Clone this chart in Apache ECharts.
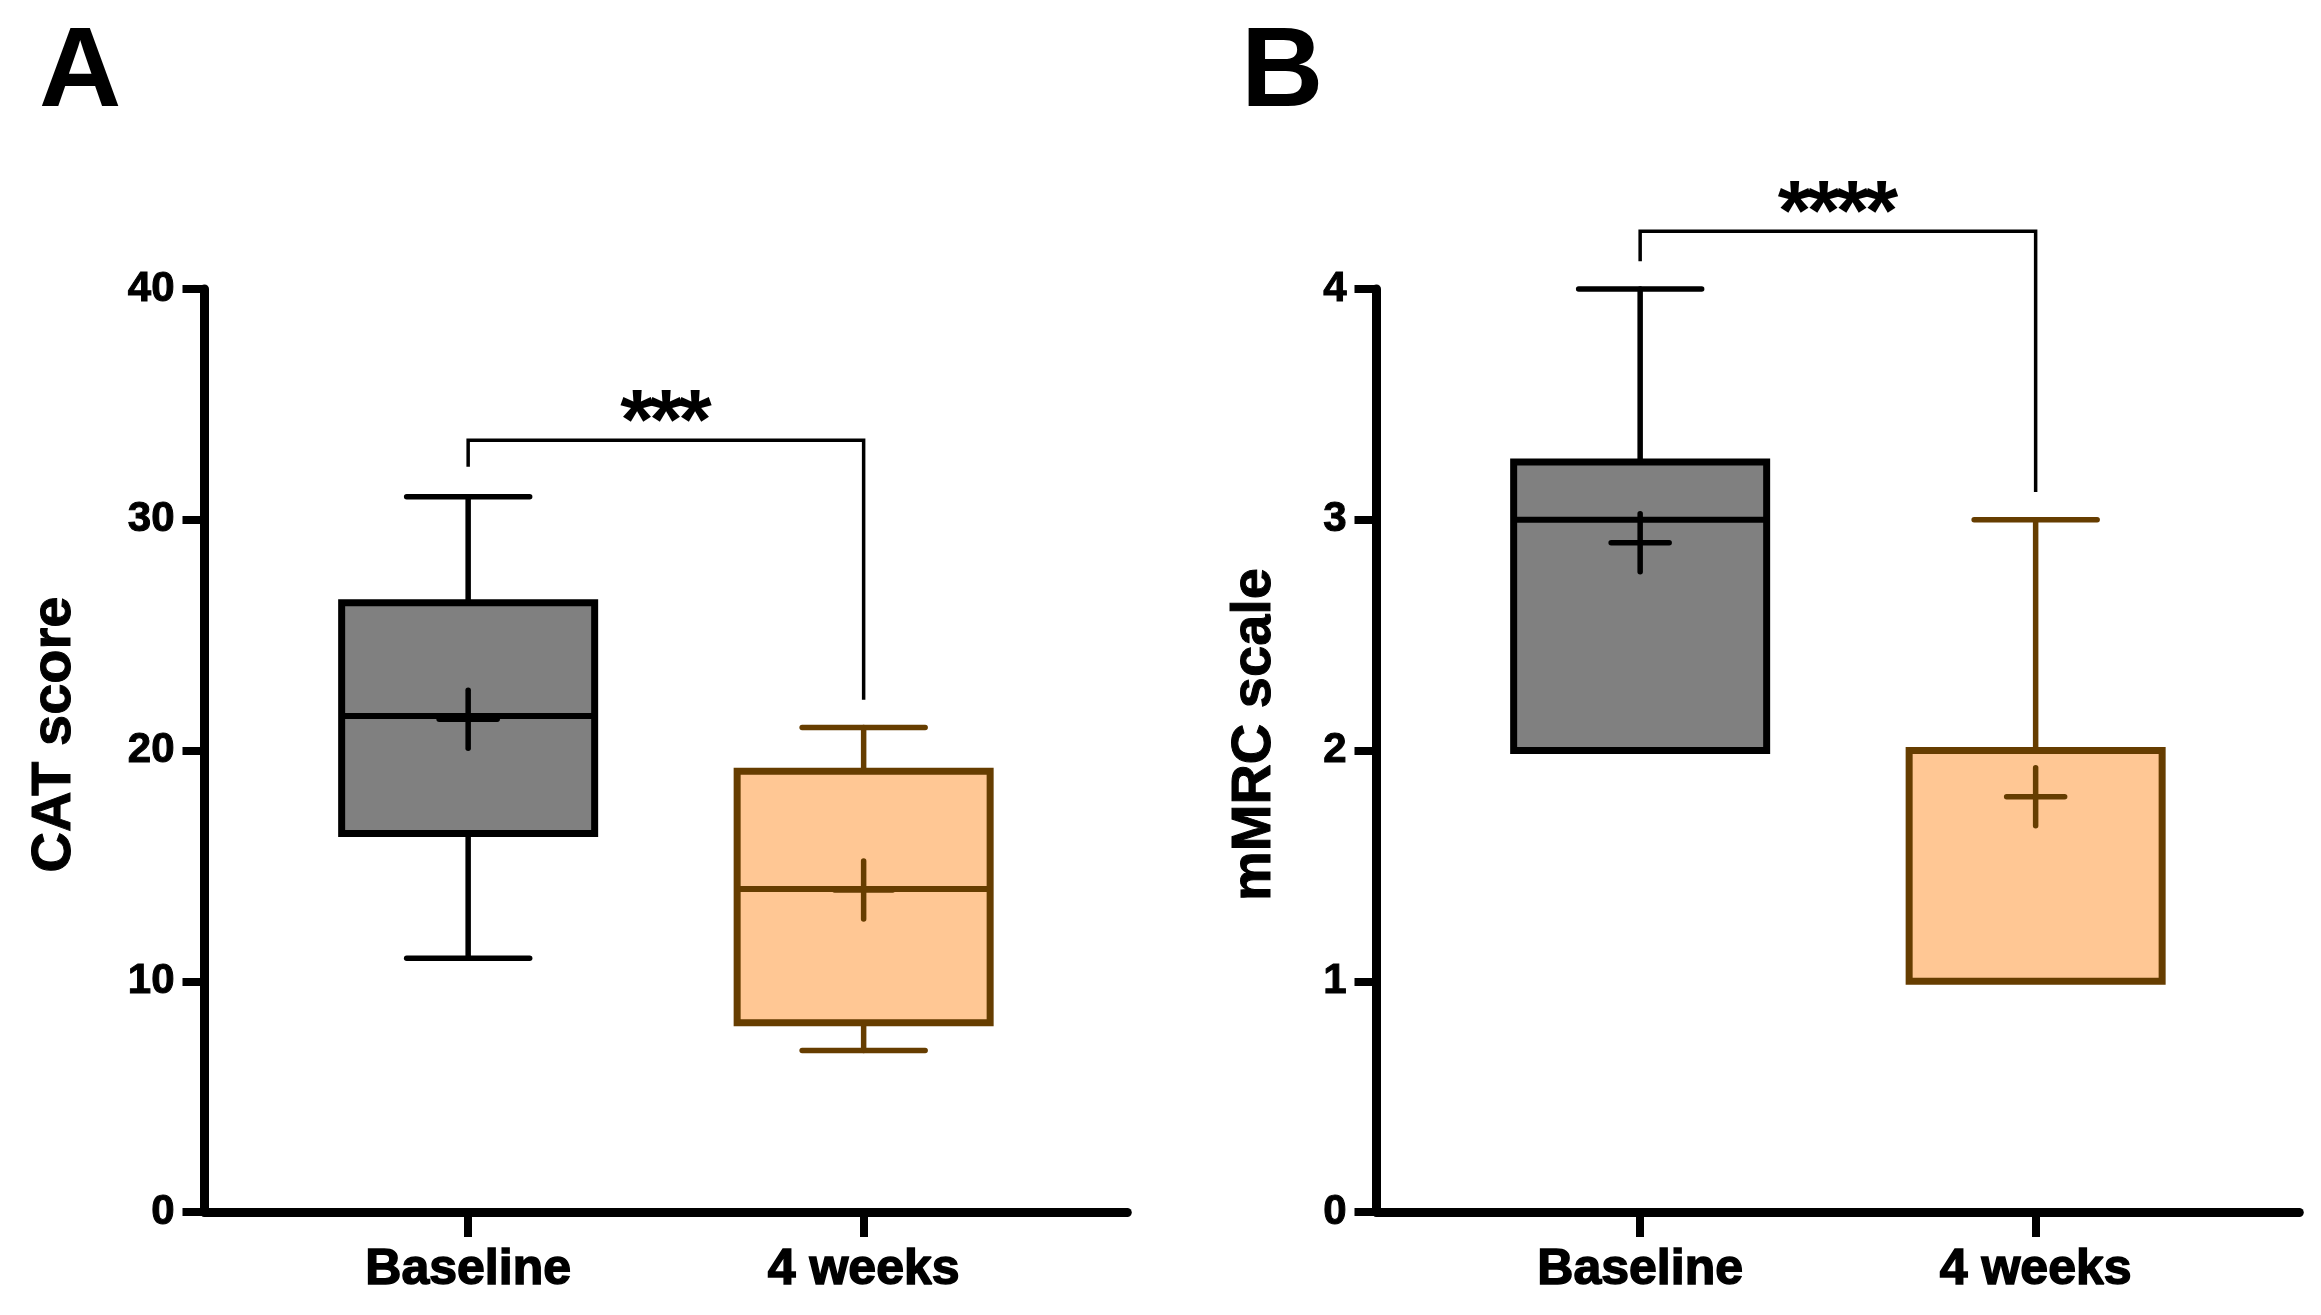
<!DOCTYPE html>
<html><head><meta charset="utf-8">
<script src="https://cdn.jsdelivr.net/npm/echarts@6/dist/echarts.min.js"></script>
<style>html,body{margin:0;padding:0;background:#fff}#c{width:2321px;height:1315px}</style>
</head><body><div id="c"></div>
<script>
// ---- data ----
const categories = ['Baseline', '4 weeks'];
const catMin = [11, 7];
const catQ1 = [16.4, 8.2];
const catMedian = [21.5, 14.0];
const catQ3 = [26.4, 19.1];
const catMax = [31, 21];
const catMean = [21.35, 13.95];
const mmrcMin = [2, 1];
const mmrcQ1 = [2, 1];
const mmrcMedian = [3, 2];
const mmrcQ3 = [3.25, 2];
const mmrcMax = [4, 3];
const mmrcMean = [2.9, 1.8];
const catBracket = [32.3, 33.45, 22.2];   // left end, top, right end
const catStars = '***';
const mmrcBracket = [4.12, 4.25, 3.12];
const mmrcStars = '****';

const FONT = '"Liberation Sans", Arial, sans-serif';
const fills = ['#808080', '#FFC794'];
const strokes = ['#000000', '#663D00'];

function rows(mn, q1, md, q3, mx, mean) {
  return categories.map((c, i) => [i + 1, mn[i], q1[i], md[i], q3[i], mx[i], mean[i]]);
}

function boxRender(params, api) {
  const x = api.value(0);
  const mn = api.value(1), q1 = api.value(2), md = api.value(3), q3 = api.value(4), mx = api.value(5), mean = api.value(6);
  const c = v => api.coord([x, v]);
  const cx = c(md)[0];
  const yMin = c(mn)[1], yQ1 = c(q1)[1], yMd = c(md)[1], yQ3 = c(q3)[1], yMx = c(mx)[1], yMean = c(mean)[1];
  const bw = 253, cw = 123, pw = 58;
  const stroke = strokes[params.dataIndex], fill = fills[params.dataIndex];
  const ls = { stroke: stroke, lineWidth: 5.5, lineCap: 'round' };
  const ch = [];
  if (mx > q3) {
    ch.push({ type: 'line', shape: { x1: cx, y1: yQ3, x2: cx, y2: yMx }, style: ls });
    ch.push({ type: 'line', shape: { x1: cx - cw / 2, y1: yMx, x2: cx + cw / 2, y2: yMx }, style: ls });
  }
  if (mn < q1) {
    ch.push({ type: 'line', shape: { x1: cx, y1: yQ1, x2: cx, y2: yMin }, style: ls });
    ch.push({ type: 'line', shape: { x1: cx - cw / 2, y1: yMin, x2: cx + cw / 2, y2: yMin }, style: ls });
  }
  ch.push({ type: 'rect', shape: { x: cx - bw / 2, y: yQ3, width: bw, height: yQ1 - yQ3 }, style: { fill: fill, stroke: stroke, lineWidth: 7 } });
  ch.push({ type: 'line', shape: { x1: cx - bw / 2, y1: yMd, x2: cx + bw / 2, y2: yMd }, style: { stroke: stroke, lineWidth: 6 } });
  ch.push({ type: 'line', shape: { x1: cx - pw / 2, y1: yMean, x2: cx + pw / 2, y2: yMean }, style: ls });
  ch.push({ type: 'line', shape: { x1: cx, y1: yMean - pw / 2, x2: cx, y2: yMean + pw / 2 }, style: ls });
  return { type: 'group', children: ch };
}

function bracketRender(params, api) {
  const x1 = api.value(0), x2 = api.value(1);
  const pL = api.coord([x1, api.value(2)]);
  const pT1 = api.coord([x1, api.value(3)]);
  const pT2 = api.coord([x2, api.value(3)]);
  const pR = api.coord([x2, api.value(4)]);
  const stars = params.seriesName;
  const ch = [{
    type: 'polyline',
    shape: { points: [pL, pT1, pT2, pR] },
    style: { stroke: '#000', lineWidth: 3.5, fill: null }
  }];
  const sp = 29;
  const mid = (pT1[0] + pT2[0]) / 2;
  const n = stars.length;
  for (let i = 0; i < n; i++) {
    ch.push({
      type: 'text',
      style: {
        x: mid + (i - (n - 1) / 2) * sp, y: pT1[1] - 15,
        text: '*', fill: '#000', font: 'bold 86px ' + FONT,
        align: 'center', verticalAlign: 'middle'
      }
    });
  }
  return { type: 'group', children: ch };
}

function xAxisCfg(gi) {
  return {
    type: 'value', gridIndex: gi, min: 1 / 3, max: 8 / 3,
    splitLine: { show: false },
    axisLine: { show: true, onZero: false, lineStyle: { color: '#000', width: 9 } },
    axisTick: { show: true, customValues: [1, 2], length: 25, lineStyle: { color: '#000', width: 8 } },
    axisLabel: {
      customValues: [1, 2], formatter: v => categories[Math.round(v) - 1],
      margin: 33, fontSize: 50, fontWeight: 'bold', color: '#000', fontFamily: FONT,
      textBorderColor: '#000', textBorderWidth: 1.5
    }
  };
}
function yAxisCfg(gi, max, interval, name, gap) {
  return {
    type: 'value', gridIndex: gi, min: 0, max: max, interval: interval,
    splitLine: { show: false },
    axisLine: { show: true, lineStyle: { color: '#000', width: 9 } },
    axisTick: { show: true, length: 22, lineStyle: { color: '#000', width: 8 } },
    axisLabel: { margin: 30, fontSize: 42, fontWeight: 'bold', color: '#000', fontFamily: FONT,
      textBorderColor: '#000', textBorderWidth: 1 },
    name: name, nameLocation: 'middle', nameGap: gap,
    nameTextStyle: { fontSize: 56, fontWeight: 'bold', color: '#000', fontFamily: FONT,
      textBorderColor: '#000', textBorderWidth: 1, padding: [0, 0, 0, 32] }
  };
}

const chart = echarts.init(document.getElementById('c'), null, { renderer: 'canvas' });
chart.setOption({
  backgroundColor: '#fff',
  animation: false,
  title: [
    { text: 'A', left: 39, top: 18, padding: 0, textStyle: { fontSize: 114, fontWeight: 'bold', color: '#000', fontFamily: FONT } },
    { text: 'B', left: 1241, top: 18, padding: 0, textStyle: { fontSize: 114, fontWeight: 'bold', color: '#000', fontFamily: FONT } }
  ],
  grid: [
    { left: 204.5, top: 289, width: 922.8, height: 923 },
    { left: 1376.5, top: 289, width: 922.8, height: 923 }
  ],
  xAxis: [xAxisCfg(0), xAxisCfg(1)],
  yAxis: [yAxisCfg(0, 40, 10, 'CAT score', 122), yAxisCfg(1, 4, 1, 'mMRC scale', 94)],
  series: [
    { type: 'custom', name: 'catBox', xAxisIndex: 0, yAxisIndex: 0, renderItem: boxRender, clip: false,
      encode: { x: 0, y: [1, 2, 3, 4, 5] }, data: rows(catMin, catQ1, catMedian, catQ3, catMax, catMean) },
    { type: 'custom', name: 'mmrcBox', xAxisIndex: 1, yAxisIndex: 1, renderItem: boxRender, clip: false,
      encode: { x: 0, y: [1, 2, 3, 4, 5] }, data: rows(mmrcMin, mmrcQ1, mmrcMedian, mmrcQ3, mmrcMax, mmrcMean) },
    { type: 'custom', name: catStars, xAxisIndex: 0, yAxisIndex: 0, renderItem: bracketRender, clip: false,
      encode: { x: [0, 1], y: [2, 3, 4] }, data: [[1, 2].concat(catBracket)] },
    { type: 'custom', name: mmrcStars, xAxisIndex: 1, yAxisIndex: 1, renderItem: bracketRender, clip: false,
      encode: { x: [0, 1], y: [2, 3, 4] }, data: [[1, 2].concat(mmrcBracket)] }
  ]
});
</script>
</body></html>
